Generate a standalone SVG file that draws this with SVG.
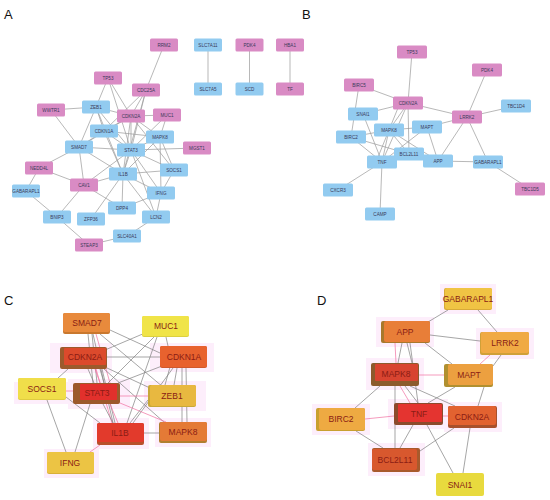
<svg xmlns="http://www.w3.org/2000/svg" width="550" height="500" viewBox="0 0 550 500">
<style>
.lbl{font-family:"Liberation Sans",Arial,sans-serif;font-size:13px;fill:#111}
.t{font-family:"Liberation Sans",Arial,sans-serif;font-size:4.6px;fill:#3a3a5a;text-anchor:middle;dominant-baseline:central}
.tc{font-family:"Liberation Sans",Arial,sans-serif;font-size:8.5px;fill:#8a1c14;text-anchor:middle;dominant-baseline:central}
.pk{fill:#d98bc4}
.bl{fill:#92cbf0}
.e line{stroke:#9a9a9a;stroke-width:0.7}
.e2 line{stroke:#7f7f7f;stroke-width:0.7}
.e2 line.p{stroke:#f070a0}
.halo rect{fill:#fdeefb}
</style>
<text class="lbl" x="4" y="19">A</text>
<text class="lbl" x="302" y="19">B</text>
<text class="lbl" x="4" y="305">C</text>
<text class="lbl" x="317" y="305">D</text>

<!-- Panel A edges -->
<g id="edgesA" class="e">
<line x1="164" y1="45" x2="146" y2="90"/>
<line x1="208" y1="45" x2="208" y2="89"/>
<line x1="249.5" y1="45" x2="249.5" y2="89"/>
<line x1="290" y1="45" x2="290" y2="89"/>
<line x1="108" y1="78" x2="96" y2="107"/>
<line x1="108" y1="78" x2="131" y2="116"/>
<line x1="108" y1="78" x2="131" y2="150"/>
<line x1="146" y1="90" x2="131" y2="116"/>
<line x1="146" y1="90" x2="104" y2="131"/>
<line x1="146" y1="90" x2="131" y2="150"/>
<line x1="146" y1="90" x2="123" y2="174"/>
<line x1="51" y1="110" x2="96" y2="107"/>
<line x1="51" y1="110" x2="79" y2="147"/>
<line x1="96" y1="107" x2="131" y2="116"/>
<line x1="96" y1="107" x2="104" y2="131"/>
<line x1="96" y1="107" x2="79" y2="147"/>
<line x1="96" y1="107" x2="131" y2="150"/>
<line x1="96" y1="107" x2="123" y2="174"/>
<line x1="131" y1="116" x2="167" y2="115"/>
<line x1="131" y1="116" x2="104" y2="131"/>
<line x1="131" y1="116" x2="160" y2="137"/>
<line x1="131" y1="116" x2="131" y2="150"/>
<line x1="131" y1="116" x2="123" y2="174"/>
<line x1="131" y1="116" x2="79" y2="147"/>
<line x1="131" y1="116" x2="174" y2="170"/>
<line x1="167" y1="115" x2="160" y2="137"/>
<line x1="167" y1="115" x2="131" y2="150"/>
<line x1="104" y1="131" x2="131" y2="150"/>
<line x1="104" y1="131" x2="79" y2="147"/>
<line x1="104" y1="131" x2="160" y2="137"/>
<line x1="104" y1="131" x2="123" y2="174"/>
<line x1="160" y1="137" x2="131" y2="150"/>
<line x1="160" y1="137" x2="174" y2="170"/>
<line x1="160" y1="137" x2="123" y2="174"/>
<line x1="160" y1="137" x2="161" y2="193"/>
<line x1="79" y1="147" x2="131" y2="150"/>
<line x1="79" y1="147" x2="84" y2="185"/>
<line x1="79" y1="147" x2="39" y2="168"/>
<line x1="79" y1="147" x2="123" y2="174"/>
<line x1="131" y1="150" x2="197" y2="148"/>
<line x1="131" y1="150" x2="123" y2="174"/>
<line x1="131" y1="150" x2="174" y2="170"/>
<line x1="131" y1="150" x2="161" y2="193"/>
<line x1="131" y1="150" x2="156" y2="217"/>
<line x1="131" y1="150" x2="84" y2="185"/>
<line x1="39" y1="168" x2="26" y2="191"/>
<line x1="39" y1="168" x2="84" y2="185"/>
<line x1="84" y1="185" x2="57" y2="217"/>
<line x1="84" y1="185" x2="123" y2="174"/>
<line x1="84" y1="185" x2="122" y2="208"/>
<line x1="123" y1="174" x2="174" y2="170"/>
<line x1="123" y1="174" x2="161" y2="193"/>
<line x1="123" y1="174" x2="122" y2="208"/>
<line x1="123" y1="174" x2="156" y2="217"/>
<line x1="123" y1="174" x2="91" y2="219"/>
<line x1="161" y1="193" x2="174" y2="170"/>
<line x1="161" y1="193" x2="156" y2="217"/>
<line x1="161" y1="193" x2="122" y2="208"/>
<line x1="26" y1="191" x2="57" y2="217"/>
<line x1="57" y1="217" x2="89" y2="245"/>
<line x1="89" y1="245" x2="127" y2="236"/>
<line x1="127" y1="236" x2="156" y2="217"/>
</g>

<!-- Panel B edges -->
<g id="edgesB" class="e">
<line x1="412" y1="52" x2="408" y2="103"/>
<line x1="487" y1="70" x2="467" y2="117"/>
<line x1="359" y1="85" x2="408" y2="103"/>
<line x1="359" y1="85" x2="351" y2="137"/>
<line x1="408" y1="103" x2="363" y2="114"/>
<line x1="408" y1="103" x2="467" y2="117"/>
<line x1="408" y1="103" x2="389" y2="130"/>
<line x1="408" y1="103" x2="382" y2="162"/>
<line x1="400" y1="103" x2="376" y2="162"/>
<line x1="408" y1="103" x2="409" y2="154"/>
<line x1="516" y1="106" x2="467" y2="117"/>
<line x1="467" y1="117" x2="427" y2="127"/>
<line x1="467" y1="117" x2="438" y2="161"/>
<line x1="467" y1="117" x2="488" y2="162"/>
<line x1="427" y1="127" x2="389" y2="130"/>
<line x1="427" y1="127" x2="438" y2="161"/>
<line x1="427" y1="127" x2="382" y2="162"/>
<line x1="389" y1="130" x2="351" y2="137"/>
<line x1="389" y1="130" x2="382" y2="162"/>
<line x1="389" y1="130" x2="409" y2="154"/>
<line x1="389" y1="130" x2="438" y2="161"/>
<line x1="351" y1="137" x2="382" y2="162"/>
<line x1="351" y1="137" x2="409" y2="154"/>
<line x1="363" y1="114" x2="382" y2="162"/>
<line x1="382" y1="162" x2="338" y2="190"/>
<line x1="382" y1="162" x2="380" y2="214"/>
<line x1="382" y1="162" x2="409" y2="154"/>
<line x1="438" y1="161" x2="488" y2="162"/>
<line x1="438" y1="161" x2="409" y2="154"/>
<line x1="488" y1="162" x2="530" y2="189"/>
</g>

<!-- Panel A nodes -->
<g id="A_RRM2"><rect class="pk" x="150" y="38.5" width="28" height="13" rx="1.5"/><text class="t" x="164" y="45">RRM2</text></g>
<g id="A_SLC7A11"><rect class="bl" x="194" y="38.5" width="28" height="13" rx="1.5"/><text class="t" x="208" y="45">SLC7A11</text></g>
<g id="A_PDK4"><rect class="pk" x="235.5" y="38.5" width="28" height="13" rx="1.5"/><text class="t" x="249.5" y="45">PDK4</text></g>
<g id="A_HBA1"><rect class="pk" x="276" y="38.5" width="28" height="13" rx="1.5"/><text class="t" x="290" y="45">HBA1</text></g>
<g id="A_SLC7A5"><rect class="bl" x="194" y="82.5" width="28" height="13" rx="1.5"/><text class="t" x="208" y="89">SLC7A5</text></g>
<g id="A_SCD"><rect class="bl" x="235.5" y="82.5" width="28" height="13" rx="1.5"/><text class="t" x="249.5" y="89">SCD</text></g>
<g id="A_TF"><rect class="pk" x="276" y="82.5" width="28" height="13" rx="1.5"/><text class="t" x="290" y="89">TF</text></g>
<g id="A_CDC25A"><rect class="pk" x="132" y="83.5" width="28" height="13" rx="1.5"/><text class="t" x="146" y="90">CDC25A</text></g>
<g id="A_TP53"><rect class="pk" x="94" y="71.5" width="28" height="13" rx="1.5"/><text class="t" x="108" y="78">TP53</text></g>
<g id="A_WWTR1"><rect class="pk" x="37" y="103.5" width="28" height="13" rx="1.5"/><text class="t" x="51" y="110">WWTR1</text></g>
<g id="A_ZEB1"><rect class="bl" x="82" y="100.5" width="28" height="13" rx="1.5"/><text class="t" x="96" y="107">ZEB1</text></g>
<g id="A_CDKN2A"><rect class="pk" x="117" y="109.5" width="28" height="13" rx="1.5"/><text class="t" x="131" y="116">CDKN2A</text></g>
<g id="A_MUC1"><rect class="pk" x="153" y="108.5" width="28" height="13" rx="1.5"/><text class="t" x="167" y="115">MUC1</text></g>
<g id="A_CDKN1A"><rect class="bl" x="90" y="124.5" width="28" height="13" rx="1.5"/><text class="t" x="104" y="131">CDKN1A</text></g>
<g id="A_MAPK8"><rect class="bl" x="146" y="130.5" width="28" height="13" rx="1.5"/><text class="t" x="160" y="137">MAPK8</text></g>
<g id="A_SMAD7"><rect class="bl" x="65" y="140.5" width="28" height="13" rx="1.5"/><text class="t" x="79" y="147">SMAD7</text></g>
<g id="A_STAT3"><rect class="bl" x="117" y="143.5" width="28" height="13" rx="1.5"/><text class="t" x="131" y="150">STAT3</text></g>
<g id="A_MGST1"><rect class="pk" x="183" y="141.5" width="28" height="13" rx="1.5"/><text class="t" x="197" y="148">MGST1</text></g>
<g id="A_NEDD4L"><rect class="pk" x="25" y="161.5" width="28" height="13" rx="1.5"/><text class="t" x="39" y="168">NEDD4L</text></g>
<g id="A_CAV1"><rect class="pk" x="70" y="178.5" width="28" height="13" rx="1.5"/><text class="t" x="84" y="185">CAV1</text></g>
<g id="A_IL1B"><rect class="bl" x="109" y="167.5" width="28" height="13" rx="1.5"/><text class="t" x="123" y="174">IL1B</text></g>
<g id="A_SOCS1"><rect class="bl" x="160" y="163.5" width="28" height="13" rx="1.5"/><text class="t" x="174" y="170">SOCS1</text></g>
<g id="A_GABARAPL1"><rect class="bl" x="12" y="184.5" width="28" height="13" rx="1.5"/><text class="t" x="26" y="191">GABARAPL1</text></g>
<g id="A_IFNG"><rect class="bl" x="147" y="186.5" width="28" height="13" rx="1.5"/><text class="t" x="161" y="193">IFNG</text></g>
<g id="A_DPP4"><rect class="bl" x="108" y="201.5" width="28" height="13" rx="1.5"/><text class="t" x="122" y="208">DPP4</text></g>
<g id="A_BNIP3"><rect class="bl" x="43" y="210.5" width="28" height="13" rx="1.5"/><text class="t" x="57" y="217">BNIP3</text></g>
<g id="A_ZFP36"><rect class="bl" x="77" y="212.5" width="28" height="13" rx="1.5"/><text class="t" x="91" y="219">ZFP36</text></g>
<g id="A_LCN2"><rect class="bl" x="142" y="210.5" width="28" height="13" rx="1.5"/><text class="t" x="156" y="217">LCN2</text></g>
<g id="A_SLC40A1"><rect class="bl" x="113" y="229.5" width="28" height="13" rx="1.5"/><text class="t" x="127" y="236">SLC40A1</text></g>
<g id="A_STEAP3"><rect class="pk" x="75" y="238.5" width="28" height="13" rx="1.5"/><text class="t" x="89" y="245">STEAP3</text></g>

<!-- Panel B nodes -->
<g id="B_TP53"><rect class="pk" x="397" y="45.5" width="30" height="13" rx="1.5"/><text class="t" x="412" y="52">TP53</text></g>
<g id="B_PDK4"><rect class="pk" x="472" y="63.5" width="30" height="13" rx="1.5"/><text class="t" x="487" y="70">PDK4</text></g>
<g id="B_BIRC5"><rect class="pk" x="344" y="78.5" width="30" height="13" rx="1.5"/><text class="t" x="359" y="85">BIRC5</text></g>
<g id="B_CDKN2A"><rect class="pk" x="393" y="96.5" width="30" height="13" rx="1.5"/><text class="t" x="408" y="103">CDKN2A</text></g>
<g id="B_TBC1D4"><rect class="bl" x="501" y="99.5" width="30" height="13" rx="1.5"/><text class="t" x="516" y="106">TBC1D4</text></g>
<g id="B_SNAI1"><rect class="bl" x="348" y="107.5" width="30" height="13" rx="1.5"/><text class="t" x="363" y="114">SNAI1</text></g>
<g id="B_LRRK2"><rect class="pk" x="452" y="110.5" width="30" height="13" rx="1.5"/><text class="t" x="467" y="117">LRRK2</text></g>
<g id="B_MAPT"><rect class="bl" x="412" y="120.5" width="30" height="13" rx="1.5"/><text class="t" x="427" y="127">MAPT</text></g>
<g id="B_MAPK8"><rect class="bl" x="374" y="123.5" width="30" height="13" rx="1.5"/><text class="t" x="389" y="130">MAPK8</text></g>
<g id="B_BIRC2"><rect class="bl" x="336" y="130.5" width="30" height="13" rx="1.5"/><text class="t" x="351" y="137">BIRC2</text></g>
<g id="B_TNF"><rect class="bl" x="367" y="155.5" width="30" height="13" rx="1.5"/><text class="t" x="382" y="162">TNF</text></g>
<g id="B_APP"><rect class="bl" x="423" y="154.5" width="30" height="13" rx="1.5"/><text class="t" x="438" y="161">APP</text></g>
<g id="B_BCL2L11"><rect class="bl" x="394" y="147.5" width="30" height="13" rx="1.5"/><text class="t" x="409" y="154">BCL2L11</text></g>
<g id="B_GABARAPL1"><rect class="bl" x="473" y="155.5" width="30" height="13" rx="1.5"/><text class="t" x="488" y="162">GABARAPL1</text></g>
<g id="B_CXCR3"><rect class="bl" x="323" y="183.5" width="30" height="13" rx="1.5"/><text class="t" x="338" y="190">CXCR3</text></g>
<g id="B_TBC1D5"><rect class="pk" x="515" y="182.5" width="30" height="13" rx="1.5"/><text class="t" x="530" y="189">TBC1D5</text></g>
<g id="B_CAMP"><rect class="bl" x="365" y="207.5" width="30" height="13" rx="1.5"/><text class="t" x="380" y="214">CAMP</text></g>

<!-- Panel C halos -->
<g id="halosC" class="halo">
<rect x="50" y="343" width="62" height="30"/>
<rect x="68" y="379" width="62" height="30"/>
<rect x="14" y="382" width="60" height="22"/>
<rect x="93" y="418" width="56" height="31"/>
<rect x="150" y="343" width="64" height="29"/>
<rect x="144" y="381" width="62" height="30"/>
<rect x="155" y="418" width="56" height="29"/>
<rect x="44" y="449" width="55" height="29"/>
</g>

<!-- Panel C edges -->
<g id="edgesC" class="e2">
<line x1="110" y1="330" x2="160" y2="353"/>
<line x1="100" y1="334" x2="163" y2="387"/>
<line x1="88" y1="334" x2="93" y2="383"/>
<line x1="92" y1="334" x2="97" y2="383"/>
<line x1="93" y1="334" x2="113" y2="423"/>
<line class="p" x1="96" y1="334" x2="110" y2="383"/>
<line x1="145" y1="333" x2="105" y2="350"/>
<line x1="154" y1="337" x2="108" y2="383"/>
<line x1="157" y1="337" x2="127" y2="423"/>
<line x1="166" y1="337" x2="168" y2="346"/>
<line x1="107" y1="357" x2="160" y2="357"/>
<line x1="68" y1="369" x2="58" y2="378"/>
<line x1="88" y1="369" x2="94" y2="383"/>
<line x1="100" y1="369" x2="104" y2="383"/>
<line class="p" x1="95" y1="369" x2="100" y2="383"/>
<line x1="107" y1="368" x2="150" y2="388"/>
<line x1="102" y1="369" x2="115" y2="423"/>
<line class="p" x1="96" y1="369" x2="112" y2="423"/>
<line x1="104" y1="369" x2="165" y2="423"/>
<line x1="162" y1="366" x2="118" y2="383"/>
<line x1="170" y1="367" x2="165" y2="385"/>
<line x1="177" y1="368" x2="174" y2="385"/>
<line x1="182" y1="368" x2="182" y2="385"/>
<line x1="173" y1="368" x2="133" y2="423"/>
<line x1="186" y1="368" x2="187" y2="422"/>
<line class="p" x1="66" y1="391" x2="73" y2="391"/>
<line x1="66" y1="397" x2="100" y2="423"/>
<line x1="47" y1="400" x2="66" y2="452"/>
<line class="p" x1="120" y1="396" x2="148" y2="396"/>
<line class="p" x1="110" y1="404" x2="118" y2="423"/>
<line x1="103" y1="404" x2="113" y2="423"/>
<line class="p" x1="120" y1="403" x2="166" y2="422"/>
<line x1="90" y1="404" x2="75" y2="452"/>
<line x1="148" y1="400" x2="130" y2="423"/>
<line x1="182" y1="407" x2="182" y2="422"/>
<line x1="144" y1="433" x2="159" y2="433"/>
<line class="p" x1="100" y1="445" x2="90" y2="452"/>
</g>

<!-- Panel C nodes -->
<g id="C_SMAD7"><rect x="63" y="313" width="47" height="21" rx="2" fill="#c9782e"/><rect x="63" y="313" width="47" height="19" rx="2" fill="#e88a3c"/><text class="tc" x="87" y="323">SMAD7</text></g>
<g id="C_MUC1"><rect x="142" y="316" width="47" height="21" rx="2" fill="#dcd040"/><rect x="142" y="316" width="47" height="20" rx="2" fill="#f0e448"/><text class="tc" x="166" y="326">MUC1</text></g>
<g id="C_CDKN2A"><rect x="60" y="347" width="47" height="22" rx="2" fill="#9c5a2c"/><rect x="64" y="348" width="42" height="17" rx="1" fill="#dc4a2c"/><text class="tc" x="85" y="357">CDKN2A</text></g>
<g id="C_CDKN1A"><rect x="160" y="346" width="47" height="22" rx="2" fill="#d0582c"/><rect x="160" y="346" width="47" height="21" rx="2" fill="#e8622e"/><text class="tc" x="184" y="357">CDKN1A</text></g>
<g id="C_SOCS1"><rect x="18" y="378" width="48" height="22" rx="2" fill="#e0cc40"/><rect x="18" y="378" width="48" height="21" rx="2" fill="#f0de4a"/><text class="tc" x="42" y="389">SOCS1</text></g>
<g id="C_STAT3"><rect x="73" y="383" width="47" height="21" rx="2" fill="#9c5a2c"/><rect x="80" y="384" width="37" height="16" rx="1" fill="#e2302c"/><text class="tc" x="97" y="393">STAT3</text></g>
<g id="C_ZEB1"><rect x="148" y="385" width="48" height="22" rx="2" fill="#c8a838"/><rect x="150" y="385" width="46" height="21" rx="2" fill="#e8b840"/><text class="tc" x="172" y="396">ZEB1</text></g>
<g id="C_IL1B"><rect x="97" y="423" width="47" height="22" rx="2" fill="#b8502c"/><rect x="97" y="423" width="47" height="19" rx="2" fill="#e23a2c"/><text class="tc" x="120" y="433">IL1B</text></g>
<g id="C_MAPK8"><rect x="159" y="422" width="48" height="21" rx="2" fill="#b08030"/><rect x="160" y="422" width="47" height="19" rx="2" fill="#e47a36"/><text class="tc" x="183" y="432">MAPK8</text></g>
<g id="C_IFNG"><rect x="47" y="452" width="47" height="22" rx="2" fill="#d8b038"/><rect x="47" y="452" width="47" height="21" rx="2" fill="#ecc444"/><text class="tc" x="70" y="463">IFNG</text></g>

<!-- Panel D halos -->
<g id="halosD" class="halo">
<rect x="440" y="284" width="56" height="30"/>
<rect x="376" y="317" width="58" height="30"/>
<rect x="476" y="328" width="58" height="31"/>
<rect x="366" y="358" width="58" height="32"/>
<rect x="312" y="404" width="58" height="31"/>
<rect x="388" y="399" width="60" height="30"/>
<rect x="444" y="402" width="58" height="30"/>
<rect x="368" y="443" width="57" height="33"/>
</g>

<!-- Panel D edges -->
<g id="edgesD" class="e2">
<line x1="448" y1="310" x2="428" y2="322"/>
<line x1="478" y1="310" x2="497" y2="332"/>
<line x1="430" y1="335" x2="480" y2="341"/>
<line x1="425" y1="343" x2="452" y2="364"/>
<line x1="402" y1="343" x2="398" y2="363"/>
<line class="p" x1="395" y1="343" x2="396" y2="363"/>
<line x1="407" y1="343" x2="412" y2="363"/>
<line x1="410" y1="343" x2="418" y2="403"/>
<line class="p" x1="490" y1="355" x2="480" y2="364"/>
<line x1="501" y1="355" x2="493" y2="366"/>
<line class="p" x1="419" y1="375" x2="444" y2="375"/>
<line x1="380" y1="386" x2="355" y2="408"/>
<line class="p" x1="400" y1="386" x2="410" y2="403"/>
<line x1="405" y1="386" x2="418" y2="403"/>
<line x1="410" y1="386" x2="455" y2="406"/>
<line x1="395" y1="386" x2="395" y2="448"/>
<line x1="455" y1="387" x2="428" y2="403"/>
<line x1="484" y1="387" x2="478" y2="406"/>
<line class="p" x1="365" y1="419" x2="394" y2="416"/>
<line x1="356" y1="431" x2="383" y2="448"/>
<line class="p" x1="443" y1="416" x2="448" y2="416"/>
<line x1="413" y1="425" x2="400" y2="448"/>
<line x1="427" y1="425" x2="453" y2="473"/>
<line x1="454" y1="428" x2="420" y2="451"/>
<line x1="470" y1="428" x2="463" y2="473"/>
</g>

<!-- Panel D nodes -->
<g id="D_GABARAPL1"><rect x="444" y="288" width="48" height="22" rx="2" fill="#d8aa38"/><rect x="445" y="288" width="47" height="21" rx="2" fill="#f0c444"/><text class="tc" x="468" y="299">GABARAPL1</text></g>
<g id="D_APP"><rect x="381" y="321" width="49" height="22" rx="2" fill="#a8782c"/><rect x="384" y="321" width="46" height="21" rx="2" fill="#e87e38"/><text class="tc" x="405" y="332">APP</text></g>
<g id="D_LRRK2"><rect x="480" y="332" width="49" height="23" rx="2" fill="#d0a038"/><rect x="481" y="332" width="48" height="21" rx="2" fill="#f0aa44"/><text class="tc" x="505" y="343">LRRK2</text></g>
<g id="D_MAPK8"><rect x="371" y="363" width="48" height="23" rx="2" fill="#8c5a2c"/><rect x="375" y="364" width="43" height="17" rx="1" fill="#d84430"/><text class="tc" x="396" y="374">MAPK8</text></g>
<g id="D_MAPT"><rect x="444" y="364" width="49" height="23" rx="2" fill="#b09030"/><rect x="448" y="364" width="45" height="21" rx="2" fill="#eca040"/><text class="tc" x="469" y="375">MAPT</text></g>
<g id="D_BIRC2"><rect x="316" y="408" width="49" height="23" rx="2" fill="#c8a030"/><rect x="319" y="408" width="46" height="22" rx="2" fill="#eeaa42"/><text class="tc" x="341" y="419">BIRC2</text></g>
<g id="D_TNF"><rect x="394" y="403" width="49" height="22" rx="2" fill="#8c4a2c"/><rect x="398" y="404" width="44" height="18" rx="1" fill="#e43430"/><text class="tc" x="419" y="414">TNF</text></g>
<g id="D_CDKN2A"><rect x="448" y="406" width="49" height="22" rx="2" fill="#a8502c"/><rect x="448" y="406" width="48" height="19" rx="2" fill="#e26230"/><text class="tc" x="472" y="417">CDKN2A</text></g>
<g id="D_BCL2L11"><rect x="372" y="448" width="48" height="24" rx="2" fill="#a85a2c"/><rect x="372" y="449" width="45" height="21" rx="2" fill="#d8582e"/><text class="tc" x="395" y="460">BCL2L11</text></g>
<g id="D_SNAI1"><rect x="436" y="473" width="48" height="23" rx="2" fill="#e8da3e"/><text class="tc" x="460" y="485">SNAI1</text></g>
</svg>
